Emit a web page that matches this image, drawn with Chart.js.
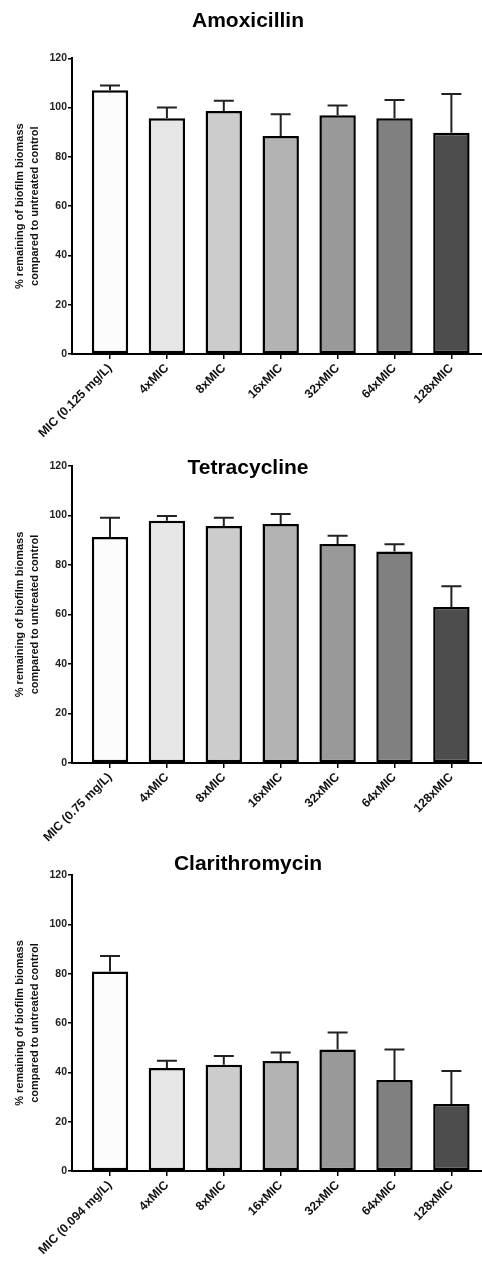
<!DOCTYPE html>
<html><head><meta charset="utf-8">
<script src="https://cdn.jsdelivr.net/npm/chart.js@4/dist/chart.umd.min.js"></script>
<style>
html,body{margin:0;padding:0;background:#fff;overflow:hidden;width:482px;height:1261px;position:relative;}
canvas{position:absolute;left:0;}
</style></head><body>
<canvas id="c1" width="496" height="454" style="top:0px;width:496px;height:454px"></canvas>
<canvas id="c2" width="496" height="423" style="top:440px;width:496px;height:423px"></canvas>
<canvas id="c3" width="496" height="431" style="top:840px;width:496px;height:431px"></canvas>
<script>
// ---- data ----
const yTitle = ['% remaining of biofilm biomass', 'compared to untreated control'];
const yTicks = [0, 20, 40, 60, 80, 100, 120];

const amoxTitle = 'Amoxicillin';
const amoxLabels = ['MIC (0.125 mg/L)', '4xMIC', '8xMIC', '16xMIC', '32xMIC', '64xMIC', '128xMIC'];
const amoxMeans = [107, 95.7, 98.6, 88.5, 96.9, 95.7, 89.8];
const amoxSD = [2.0, 4.3, 4.2, 8.8, 3.9, 7.4, 15.7];

const tetraTitle = 'Tetracycline';
const tetraLabels = ['MIC (0.75 mg/L)', '4xMIC', '8xMIC', '16xMIC', '32xMIC', '64xMIC', '128xMIC'];
const tetraMeans = [91.3, 97.9, 95.8, 96.6, 88.5, 85.5, 63.0];
const tetraSD = [7.8, 1.9, 3.3, 4.0, 3.3, 2.9, 8.4];

const clariTitle = 'Clarithromycin';
const clariLabels = ['MIC (0.094 mg/L)', '4xMIC', '8xMIC', '16xMIC', '32xMIC', '64xMIC', '128xMIC'];
const clariMeans = [80.9, 41.8, 43.1, 44.6, 49.3, 36.9, 27.2];
const clariSD = [6.3, 2.9, 3.5, 3.4, 6.8, 12.4, 13.3];

// ---- styles ----
const barColors = ['#fcfcfc', '#e6e6e6', '#cccccc', '#b3b3b3', '#999999', '#808080', '#4d4d4d'];
const FONT = '"Liberation Sans", Arial, Helvetica, sans-serif';

const errorBars = {
  id: 'errorBars',
  afterDatasetsDraw(chart, args, opts) {
    const { ctx } = chart;
    const xs = chart.scales.x, ys = chart.scales.y;
    const data = chart.data.datasets[0].data;
    ctx.save();
    ctx.strokeStyle = '#222';
    ctx.lineWidth = 2;
    ctx.lineCap = 'butt';
    data.forEach((pt, i) => {
      const px = xs.getPixelForValue(pt.x);
      const yb = ys.getPixelForValue(pt.y);
      const yt = ys.getPixelForValue(pt.y + opts.sd[i]);
      ctx.beginPath();
      ctx.moveTo(px, yb);
      ctx.lineTo(px, yt);
      ctx.moveTo(px - 10, yt);
      ctx.lineTo(px + 10, yt);
      ctx.stroke();
    });
    ctx.restore();
  }
};

function makeChart(id, title, labels, means, sd, titlePad) {
  new Chart(document.getElementById(id), {
    type: 'bar',
    data: {
      datasets: [{
        data: means.map((v, i) => ({ x: i, y: v })),
        backgroundColor: barColors,
        borderColor: '#000',
        borderWidth: 2.5,
        borderSkipped: false,
        categoryPercentage: 1,
        barPercentage: 0.64
      }]
    },
    options: {
      responsive: false,
      animation: false,
      devicePixelRatio: 1,
      layout: { padding: 0 },
      plugins: {
        legend: { display: false },
        tooltip: { enabled: false },
        title: {
          display: true, text: title, color: '#000',
          font: { family: FONT, size: 21, weight: 'bold', lineHeight: 1.2 },
          padding: titlePad
        },
        errorBars: { sd: sd }
      },
      scales: {
        x: {
          type: 'linear',
          offset: false,
          min: -0.668, max: 6.784,
          afterBuildTicks: (axis) => { axis.ticks = labels.map((_, i) => ({ value: i })); },
          afterFit: (scale) => { scale.height = 100; },
          border: { color: '#000', width: 2 },
          grid: { offset: false, drawOnChartArea: false, color: '#000', lineWidth: 1.5, tickLength: 5 },
          ticks: {
            autoSkip: false, maxRotation: 45, minRotation: 45, padding: 2,
            color: '#111', font: { family: FONT, size: 12.3, weight: 'bold' },
            callback: (v) => labels[Math.round(v)]
          }
        },
        y: {
          min: 0, max: 120,
          afterBuildTicks: (axis) => { axis.ticks = yTicks.map(v => ({ value: v })); },
          afterFit: (scale) => { scale.width = 72; },
          border: { color: '#000', width: 2 },
          grid: { drawOnChartArea: false, color: '#000', lineWidth: 1.5, tickLength: 4 },
          ticks: { padding: 1, color: '#222', font: { family: FONT, size: 10.5, weight: 'bold' } },
          title: {
            display: true, text: yTitle, color: '#111',
            font: { family: FONT, size: 11, weight: 'bold', lineHeight: 1.36 },
            padding: { top: 12.5, bottom: 0 }
          }
        }
      }
    },
    plugins: [errorBars]
  });
}

makeChart('c1', amoxTitle, amoxLabels, amoxMeans, amoxSD, { top: 8.7, bottom: 24.4 });
makeChart('c2', tetraTitle, tetraLabels, tetraMeans, tetraSD, { top: 16.1, bottom: -15.3 });
makeChart('c3', clariTitle, clariLabels, clariMeans, clariSD, { top: 12.1, bottom: -2.3 });
</script>
</body></html>
